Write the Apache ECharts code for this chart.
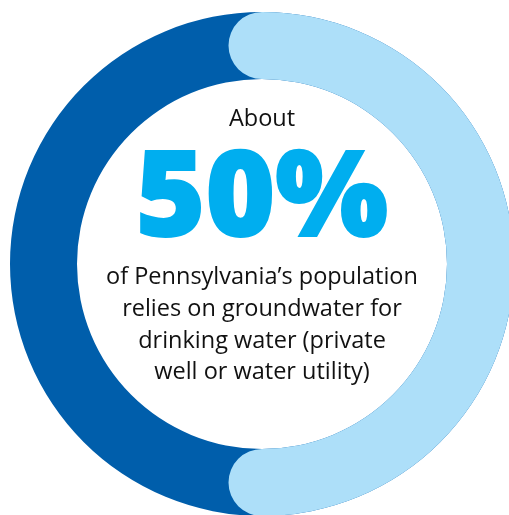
<!DOCTYPE html>
<html>
<head>
<meta charset="utf-8">
<script src="https://cdn.jsdelivr.net/npm/echarts@6/dist/echarts.min.js"></script>
<style>
html,body{margin:0;padding:0;background:#fff;}
#chart{width:509px;height:515px;}
</style>
</head>
<body>
<div id="chart"></div>
<script>
var categories = ['Pennsylvania population'];
var totalValues = [100];
var groundwaterValues = [50];
var headlineLabel = 'About';
var bigLabel = groundwaterValues[0] + '%';
var bodyLines = [
  'of Pennsylvania\u2019s population',
  'relies on groundwater for',
  'drinking water (private',
  'well or water utility)'
];

var chart = echarts.init(document.getElementById('chart'));
var cx = 262, cy = 264;
var bodyFont = '500 23.5px "Open Sans", "Noto Sans", sans-serif';
var graphics = [
  {type:'text', style:{text:headlineLabel, x:cx, y:119, align:'center', verticalAlign:'middle', font:bodyFont, fill:'#111'}},
  {type:'text', style:{text:bigLabel, x:cx, y:202, align:'center', verticalAlign:'middle', font:'900 119px "Open Sans", "Noto Sans", sans-serif', fill:'#00AEEF', stroke:'#00AEEF', lineWidth:2}}
];
var lineY = [277, 309, 341, 372];
bodyLines.forEach(function(t, i){
  graphics.push({type:'text', style:{text:t, x:cx, y:lineY[i], align:'center', verticalAlign:'middle', font:bodyFont, fill:'#111'}});
});

chart.setOption({
  animation:false,
  polar:{center:[cx, cy], radius:[185, 252]},
  angleAxis:{type:'value', max:100, min:0, startAngle:90, clockwise:true, show:false},
  radiusAxis:{type:'category', data:categories, show:false},
  series:[
    {type:'bar', coordinateSystem:'polar', data:totalValues, barCategoryGap:'0%', itemStyle:{color:'#005EAB'}},
    {type:'bar', coordinateSystem:'polar', data:groundwaterValues, barGap:'-100%', barCategoryGap:'0%', roundCap:true, itemStyle:{color:'#ADDFF9'}}
  ],
  graphic:graphics
});
</script>
</body>
</html>
